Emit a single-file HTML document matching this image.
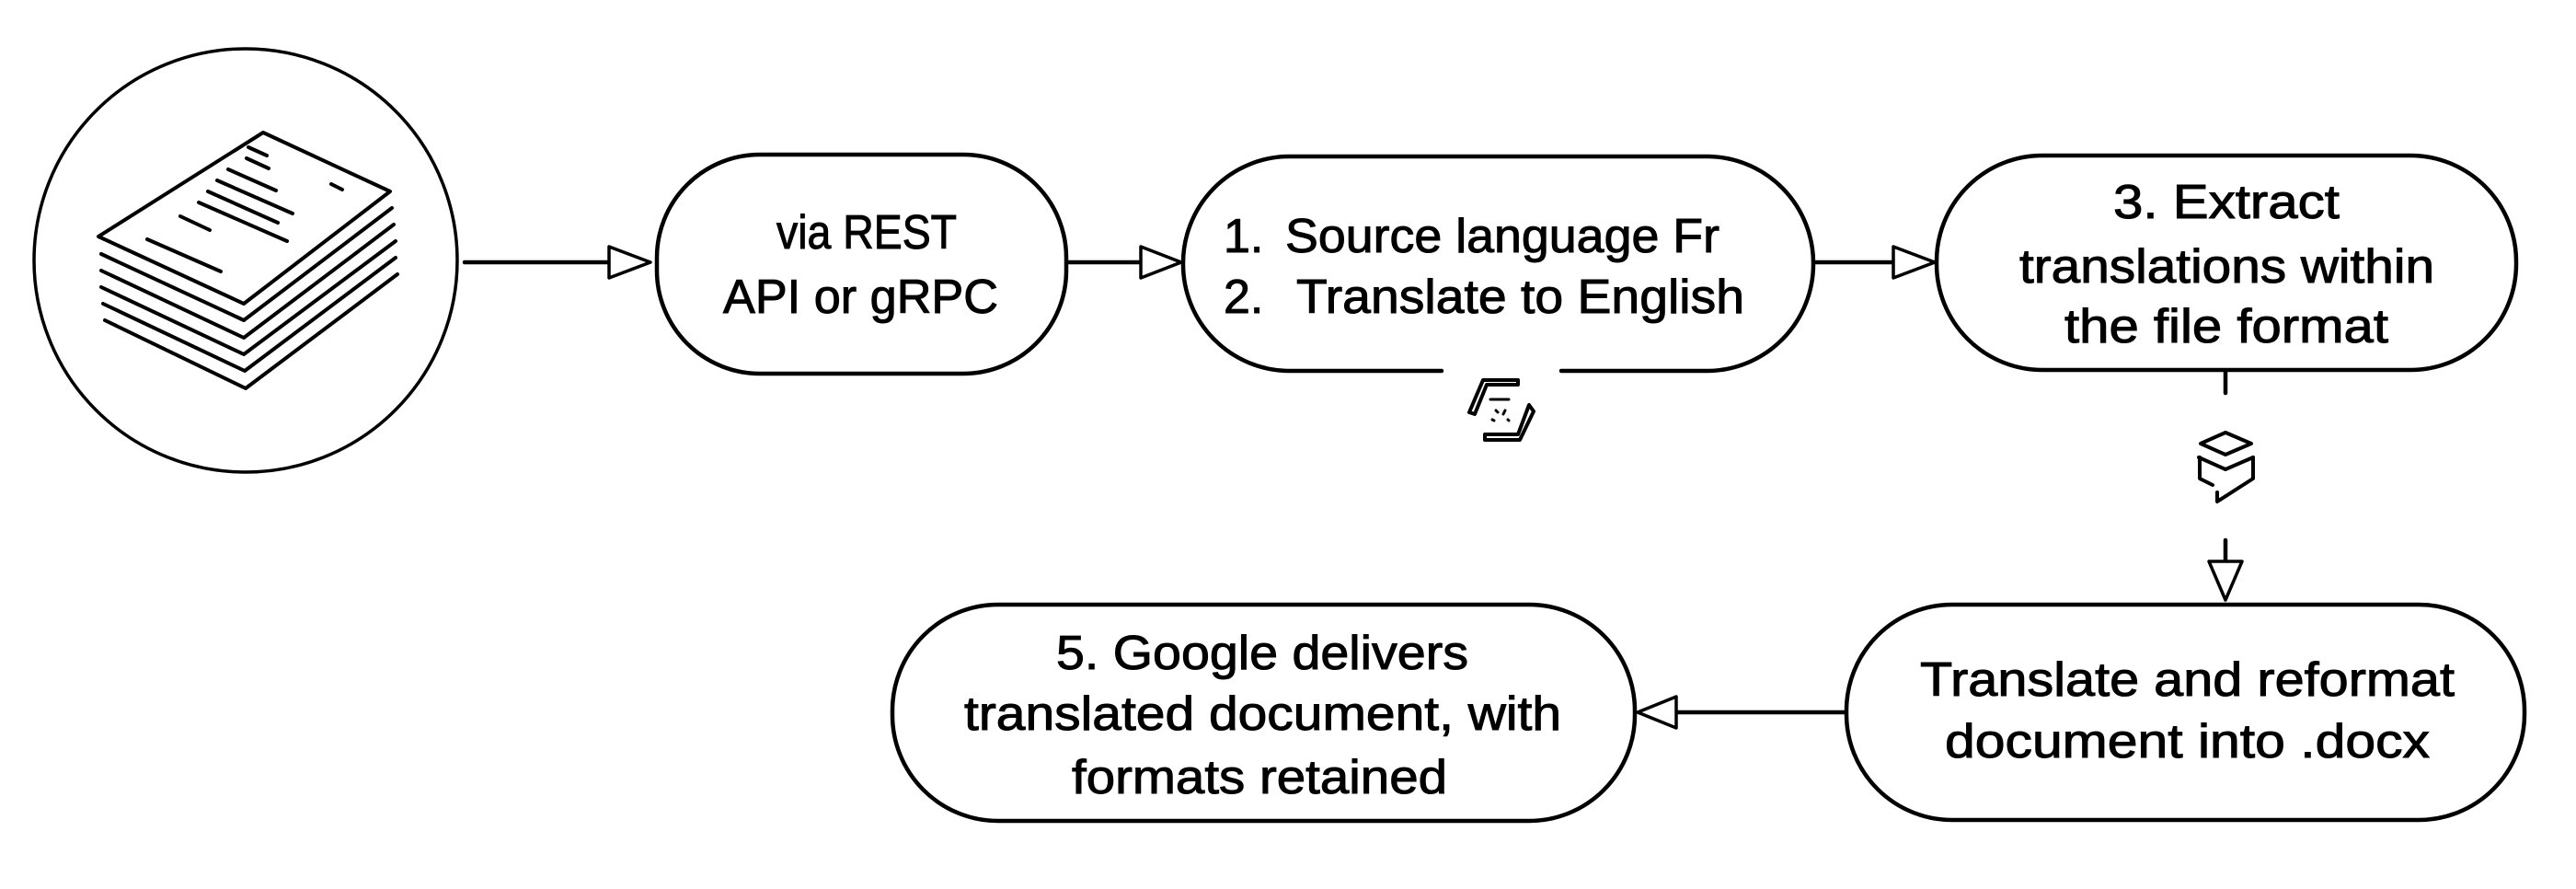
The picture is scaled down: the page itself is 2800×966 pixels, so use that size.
<!DOCTYPE html>
<html><head><meta charset="utf-8"><style>html,body{margin:0;padding:0;background:#fff}svg{display:block}</style></head>
<body>
<svg width="2800" height="966" viewBox="0 0 2800 966" xmlns="http://www.w3.org/2000/svg">
<g fill="none" stroke="#000" stroke-width="4.5" stroke-linejoin="round" stroke-linecap="round">
  <circle cx="267" cy="283" r="230" stroke-width="3.5"/>
  <g stroke-width="4">
    <path d="M286,144 L424,208 L265,330 L107,257 Z" fill="#fff"/>
    <path d="M110,276 L265,348 L426,226"/>
    <path d="M110,294 L265,367 L428,244"/>
    <path d="M110,312 L265,385 L430,262"/>
    <path d="M112,330 L266,403 L430,280"/>
    <path d="M114,348 L267,422 L432,298"/>
    <path d="M160,260 L240,295"/>
    <path d="M196,235 L228,250"/>
    <path d="M216,220 L312,262"/>
    <path d="M226,208 L302,242"/>
    <path d="M236,196 L318,232"/>
    <path d="M248,184 L300,207"/>
    <path d="M268,172 L292,183"/>
    <path d="M270,160 L290,169"/>
    <path d="M360,200 L372,206"/>
  </g>
  <rect x="714" y="168" width="445" height="238" rx="112" ry="112"/>
  <path d="M1567,403 L1400,403 A116,116 0 0 1 1286,287 A116,116 0 0 1 1400,170 L1857,170 A116,116 0 0 1 1971,287 A116,116 0 0 1 1857,403 L1697,403"/>
  <rect x="2105" y="169" width="630" height="233" rx="115" ry="115"/>
  <rect x="2007" y="657" width="737" height="234" rx="115" ry="115"/>
  <rect x="970" y="657" width="807" height="235" rx="115" ry="115"/>
  <line x1="505" y1="285" x2="662" y2="285"/>
  <path d="M662,268 L707,285 L662,302 Z" fill="#fff" stroke-width="3.5"/>
  <line x1="1162" y1="285" x2="1240" y2="285"/>
  <path d="M1240,268 L1284,285 L1240,302 Z" fill="#fff" stroke-width="3.5"/>
  <line x1="1974" y1="285" x2="2058" y2="285"/>
  <path d="M2058,268 L2103,285 L2058,302 Z" fill="#fff" stroke-width="3.5"/>
  <line x1="2419" y1="405" x2="2419" y2="427"/>
  <line x1="2419" y1="587" x2="2419" y2="610"/>
  <path d="M2401,610 L2419,652 L2437,610 Z" fill="#fff" stroke-width="3.5"/>
  <line x1="2004" y1="774" x2="1822" y2="774"/>
  <path d="M1822,757 L1780,774 L1822,791 Z" fill="#fff" stroke-width="3.5"/>
  <g stroke-width="4">
    <path d="M1650,413 L1612,413 L1597,448 L1603,450 L1616,418 L1650,418 Z"/>
    <path d="M1614,478 L1652,478 L1667,447 L1662,440 L1650,472 L1614,472 Z"/>
    <path d="M1620,434 L1640,434" stroke-width="3"/>
    <path d="M1626,446 L1628,448 M1636,446 L1634,450 M1622,456 L1624,457 M1639,456 L1640,457" stroke-width="3"/>
  </g>
  <g stroke-width="4">
    <path d="M2392,482 L2419,470 L2447,482 L2419,494 Z"/>
    <path d="M2390,497 L2419,510 L2449,497"/>
    <path d="M2391,497 L2391,520 L2405,527 M2449,497 L2449,520 L2410,545 L2410,535"/>
  </g>
</g>
<g font-family="Liberation Sans, sans-serif" font-size="52" fill="#000" stroke="#000" stroke-width="1">
  <text x="844" y="270" textLength="196" lengthAdjust="spacingAndGlyphs">via REST</text>
  <text x="786" y="340" textLength="299" lengthAdjust="spacingAndGlyphs">API or gRPC</text>
  <text x="1330" y="274">1.</text>
  <text x="1397" y="274" textLength="472" lengthAdjust="spacingAndGlyphs">Source language Fr</text>
  <text x="1330" y="340">2.</text>
  <text x="1409" y="340" textLength="487" lengthAdjust="spacingAndGlyphs">Translate to English</text>
  <text x="2297" y="237" textLength="246" lengthAdjust="spacingAndGlyphs">3.  Extract</text>
  <text x="2195" y="307" textLength="451" lengthAdjust="spacingAndGlyphs">translations within</text>
  <text x="2244" y="372" textLength="352" lengthAdjust="spacingAndGlyphs">the file format</text>
  <text x="2087" y="756" textLength="581" lengthAdjust="spacingAndGlyphs">Translate and reformat</text>
  <text x="2114" y="823" textLength="527" lengthAdjust="spacingAndGlyphs">document into .docx</text>
  <text x="1148" y="727" textLength="448" lengthAdjust="spacingAndGlyphs">5. Google delivers</text>
  <text x="1048" y="793" textLength="649" lengthAdjust="spacingAndGlyphs">translated document, with</text>
  <text x="1165" y="862" textLength="408" lengthAdjust="spacingAndGlyphs">formats retained</text>
</g>
</svg>
</body></html>
